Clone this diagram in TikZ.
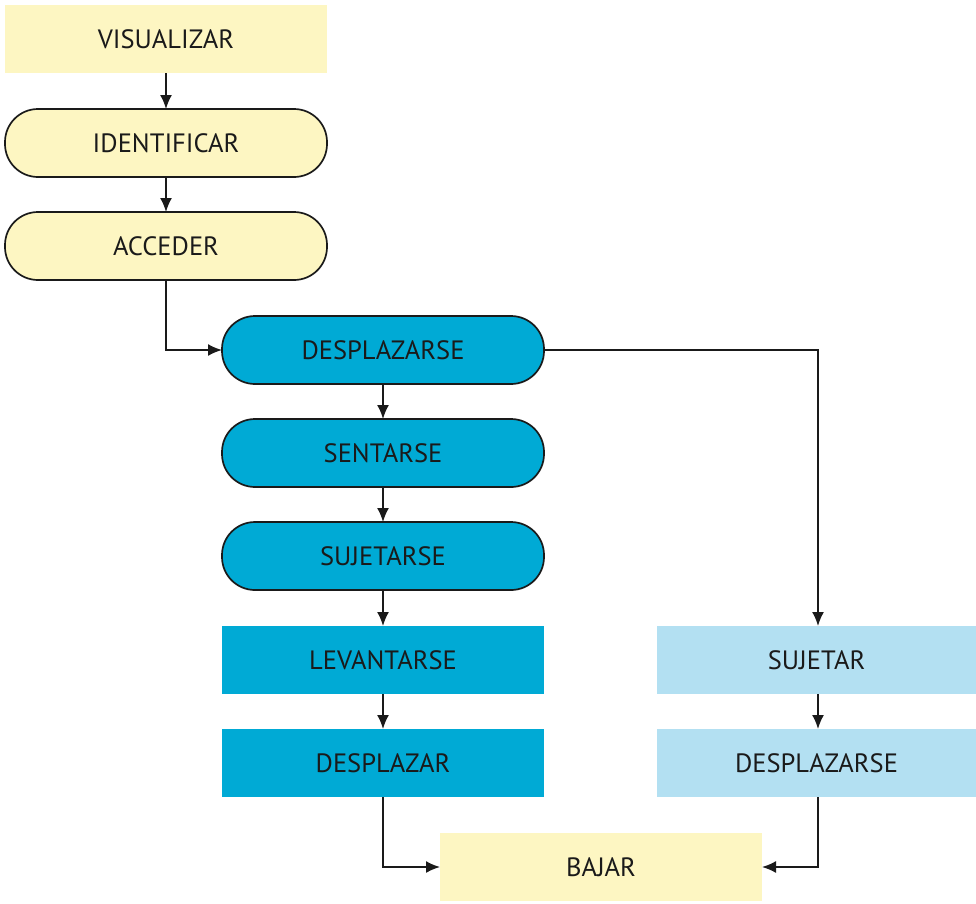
\documentclass[tikz,border=0pt]{standalone}
\usepackage{fontspec}
\setmainfont{PT Sans}
\usetikzlibrary{arrows.meta}
\definecolor{ylw}{HTML}{FDF6C2}
\definecolor{blu}{HTML}{00AAD5}
\definecolor{lblu}{HTML}{B3E0F2}
\definecolor{ink}{HTML}{1A1A1A}
\tikzset{
  box/.style={minimum width=322pt, minimum height=68pt, inner sep=0pt, outer sep=0pt,
    text=ink, font=\fontsize{26.5}{30}\selectfont},
  rbox/.style={box, draw=ink, line width=1.7pt, rounded corners=33pt},
  arr/.style={draw=ink, line width=1.7pt, -{Latex[length=14pt,width=12pt]}}
}
\begin{document}
\begin{tikzpicture}[x=1pt,y=-1pt]
\useasboundingbox (0,0) rectangle (976,903);
\node[box, fill=ylw] (vis) at (166,39) {VISUALIZAR};
\node[rbox, fill=ylw] (ide) at (166,143) {IDENTIFICAR};
\node[rbox, fill=ylw] (acc) at (166,246) {ACCEDER};
\node[rbox, fill=blu] (des) at (383,350) {DESPLAZARSE};
\node[rbox, fill=blu] (sen) at (383,453) {SENTARSE};
\node[rbox, fill=blu] (suj) at (383,556) {SUJETARSE};
\node[box, fill=blu] (lev) at (383,660) {LEVANTARSE};
\node[box, fill=blu] (dpz) at (383,763) {DESPLAZAR};
\node[box, fill=lblu, minimum width=319pt] (sjt) at (816.5,660) {SUJETAR};
\node[box, fill=lblu, minimum width=319pt] (des2) at (816.5,763) {DESPLAZARSE};
\node[box, fill=ylw] (baj) at (601,867) {BAJAR};
\coordinate (c1) at (166,350);
\coordinate (c2) at (818,350);
\coordinate (c3) at (383,867);
\coordinate (c4) at (818,867);
\draw[arr] (vis) -- (ide);
\draw[arr] (ide) -- (acc);
\draw[arr] (acc.south) -- (c1) -- (des.west);
\draw[arr] (des.east) -- (c2) -- (sjt.north -| c2);
\draw[arr] (des) -- (sen);
\draw[arr] (sen) -- (suj);
\draw[arr] (suj) -- (lev);
\draw[arr] (lev) -- (dpz);
\draw[arr] (sjt.south -| c2) -- (des2.north -| c2);
\draw[arr] (dpz.south) -- (c3) -- (baj.west);
\draw[arr] (des2.south -| c4) -- (c4) -- (baj.east);
\end{tikzpicture}
\end{document}
